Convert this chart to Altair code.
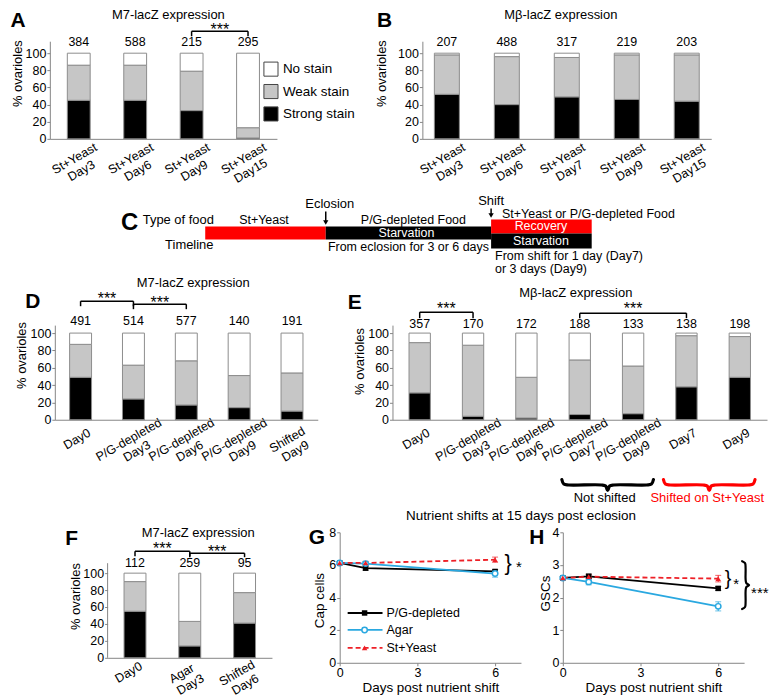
import altair as alt
import pandas as pd
import math

FONT = "Liberation Sans"
AXC = "#858585"
RED = "#ff0000"
LRED = "#ee2027"
BLUE = "#2aa8e0"
LBL_FS = 12.5
SFS = 16

# ---------------- data ----------------
STAINS = ["No stain", "Weak stain", "Strong stain"]
STAIN_COLORS = ["#ffffff", "#c6c6c6", "#000000"]

A_CATS = ["St+Yeast|Day3", "St+Yeast|Day6", "St+Yeast|Day9", "St+Yeast|Day15"]
A_STRONG = [45, 45, 33, 1]
A_WEAK_TOP = [86, 86, 79, 13]
A_N = [384, 588, 215, 295]

B_CATS = ["St+Yeast|Day3", "St+Yeast|Day6", "St+Yeast|Day7", "St+Yeast|Day9", "St+Yeast|Day15"]
B_STRONG = [52, 40, 49, 46, 44]
B_WEAK_TOP = [98, 96, 95, 98, 98]
B_N = [207, 488, 317, 219, 203]

D_CATS = ["Day0", "P/G-depleted|Day3", "P/G-depleted|Day6", "P/G-depleted|Day9", "Shifted|Day9"]
D_STRONG = [49, 24, 17, 14, 10]
D_WEAK_TOP = [87, 63, 68, 51, 54]
D_N = [491, 514, 577, 140, 191]

E_CATS = ["Day0", "P/G-depleted|Day3", "P/G-depleted|Day6", "P/G-depleted|Day7",
          "P/G-depleted|Day9", "Day7", "Day9"]
E_STRONG = [31, 4, 2, 6, 7, 38, 49]
E_WEAK_TOP = [89, 86, 49, 69, 62, 97, 96]
E_N = [357, 170, 172, 188, 133, 138, 198]

F_CATS = ["Day0", "Agar|Day3", "Shifted|Day6"]
F_STRONG = [55, 14, 41]
F_WEAK_TOP = [90, 43, 77]
F_N = [112, 259, 95]

SHIFT_DAYS = [0, 1, 6]
SERIES = ["P/G-depleted", "Agar", "St+Yeast"]
G_MEAN = {"P/G-depleted": [6.12, 5.8, 5.6], "Agar": [6.12, 6.08, 5.47], "St+Yeast": [6.12, 6.12, 6.32]}
G_ERR = {"P/G-depleted": [0.08, 0.12, 0.12], "Agar": [0.08, 0.12, 0.22], "St+Yeast": [0.08, 0.1, 0.16]}
H_MEAN = {"P/G-depleted": [2.6, 2.65, 2.28], "Agar": [2.6, 2.48, 1.73], "St+Yeast": [2.6, 2.64, 2.58]}
H_ERR = {"P/G-depleted": [0.05, 0.07, 0.06], "Agar": [0.05, 0.09, 0.14], "St+Yeast": [0.05, 0.07, 0.1]}

C_ROWS = ["Type of food", "Timeline"]
C_FOOD = ["St+Yeast", "P/G-depleted Food", "St+Yeast or P/G-depleted Food"]
C_PHASE = ["", "Starvation", "Recovery", "Starvation"]
C_EVENT = ["Eclosion", "Shift"]
C_TIMING = ["From eclosion for 3 or 6 days", "From shift for 1 day (Day7)", "or 3 days (Day9)"]

# ---------------- layout (reference pixel geometry) ----------------
GEO = {
    "A": dict(left=44, top=34, base=132, ppu=0.86, width=228, pi=0.595, po=0.31,
              title="M7-lacZ expression", title_xy=(163, 8), letter="A", letter_xy=(12, 14),
              ytitle_xy=(12, 66), count_y=35, brackets=[(2, 3, 24, 29, 18)], axis_top=None,
              lab_across=14),
    "B": dict(left=418, top=34, base=132, ppu=0.86, width=290, pi=0.583, po=0.2,
              title="Mβ-lacZ expression", title_xy=(557, 8), letter="B", letter_xy=(380, 14),
              ytitle_xy=(377, 66), count_y=35, brackets=[], axis_top=None, lab_across=14),
    "D": dict(left=49, top=322, base=417, ppu=0.87, width=264, pi=0.585, po=0.28,
              title="M7-lacZ expression", title_xy=(188, 280), letter="D", letter_xy=(27, 299),
              ytitle_xy=(16, 352), count_y=318,
              brackets=[(0, 1, 298, 303, 292), (1, 2, 301, 306, 296)], axis_top=None,
              lab_across=14),
    "E": dict(left=388, top=322, base=417, ppu=0.87, width=376, pi=0.6, po=0.31,
              title="Mβ-lacZ expression", title_xy=(572, 290), letter="E", letter_xy=(350, 300),
              ytitle_xy=(355, 358), count_y=321,
              brackets=[(0, 1, 309, 315, 302), (3, 5, 310, 315, 302)], axis_top=None,
              lab_across=14),
    "F": dict(left=102, top=536, base=662, ppu=0.85, width=165, pi=0.6, po=0.3,
              title="M7-lacZ expression", title_xy=(193, 537), letter="F", letter_xy=(66, 543),
              ytitle_xy=(70, 600), count_y=567,
              brackets=[(0, 1, 555, 560, 549), (1, 2, 557, 561, 552)], axis_top=567,
              lab_across=8.5),
}
# invisible anchors that fix each row's extent (ref pixel coords)
ANCHOR_X = 3
ROW_ANCHORS = {"A": [182], "C": [184.5, 270.5], "D": [273.5, 503], "F": [510.5]}
LABEL_ALONG = -14   # label centre offset along the rotated baseline

AW = {" ": 278, "\u00a0": 278, "+": 584, "-": 333, "/": 278, "(": 333, ")": 333,
      "A": 667, "D": 722, "G": 778, "P": 667, "S": 667, "Y": 667,
      "a": 556, "d": 556, "e": 556, "f": 278, "g": 556, "h": 556, "i": 222, "l": 222,
      "n": 556, "o": 556, "p": 556, "r": 333, "s": 500, "t": 278, "y": 500}


def tw(s, fs):
    return sum(AW.get(ch, 556) for ch in s) * fs / 1000.0


ONE = pd.DataFrame({"k": [0]})


def txt(text, x, y, fs=13, weight="normal", color="black", align="center", baseline="middle"):
    return alt.Chart(ONE).mark_text(text=text, fontSize=fs, fontWeight=weight, color=color,
                                    align=align, baseline=baseline).encode(
        x=alt.value(x), y=alt.value(y))


def anchors(rx, ry, ys):
    return [alt.Chart(ONE).mark_point(opacity=0, size=1).encode(
        x=alt.value(rx(ANCHOR_X)), y=alt.value(ry(y))) for y in ys]


def label_expr(cats, fs=LBL_FS):
    """Multi-line labels, each line centred by trailing no-break spaces (kept by a ZWSP)."""
    lines = [c.split("|") for c in cats]
    wmax = max(tw(l, fs) for ls in lines for l in ls)
    nbw = AW["\u00a0"] * fs / 1000.0
    expr = "''"
    for c, ls in reversed(list(zip(cats, lines))):
        padded = []
        for l in ls:
            k = int(round((wmax - tw(l, fs)) / 2 / nbw))
            padded.append(l + ("\u00a0" * k + "\u200b" if k else ""))
        arr = "[" + ", ".join("'%s'" % p for p in padded) + "]"
        expr = "datum.value === '%s' ? %s : %s" % (c, arr, expr)
    return expr, wmax


def brace_points(a0, a1, b0, depth, vertical=False):
    m = (a0 + a1) / 2.0
    d = depth
    pts = [(a0, b0), (a0 + 2, b0 + d * 0.42), (a0 + 7, b0 + d * 0.5), (m - 6, b0 + d * 0.5),
           (m - 2, b0 + d * 0.6), (m, b0 + d), (m + 2, b0 + d * 0.6), (m + 6, b0 + d * 0.5),
           (a1 - 7, b0 + d * 0.5), (a1 - 2, b0 + d * 0.42), (a1, b0)]
    if vertical:
        pts = [(b, a) for a, b in pts]
    return pts


def brace_layer(pts, color, width):
    df = pd.DataFrame(pts, columns=["bx", "by"])
    df["i"] = list(range(len(df)))
    return alt.Chart(df).mark_line(color=color, strokeWidth=width, interpolate="catmull-rom",
                                   strokeCap="round").encode(
        x=alt.X("bx:Q", scale=None, axis=None), y=alt.Y("by:Q", scale=None, axis=None),
        order="i:Q")


def bar_layers(cats, strong, weak_top, counts, g, legend=False):
    L, T, B0, W = g["left"], g["top"], g["base"], g["width"]
    H = B0 - T
    ymax = H / g["ppu"]
    rx = lambda x: x - L
    ry = lambda y: y - T
    n = len(cats)
    step = W / (n - g["pi"] + 2 * g["po"])
    rows = []
    for c, s, wt in zip(cats, strong, weak_top):
        for stn, a, b in (("Strong stain", 0, s), ("Weak stain", s, wt), ("No stain", wt, 100)):
            rows.append({"cat": c, "y0": a, "y1": b, "stain": stn,
                         "fillc": STAIN_COLORS[STAINS.index(stn)]})
    df = pd.DataFrame(rows)
    expr, wmax = label_expr(cats)
    # offsets in the rotated label frame, converted to screen offsets
    rdx, rdy = wmax / 2 + LABEL_ALONG, g["lab_across"] - 0.43 * LBL_FS
    ang = math.radians(30)
    ox = rdx * math.cos(ang) + rdy * math.sin(ang)
    oy = -rdx * math.sin(ang) + rdy * math.cos(ang)
    xenc = alt.X("cat:N", sort=cats,
                 scale=alt.Scale(domain=cats, paddingInner=g["pi"], paddingOuter=g["po"]),
                 axis=alt.Axis(title=None, labelExpr=expr, labelAngle=330, labelAlign="right",
                               labelBaseline="top", labelOffset=ox, labelPadding=oy,
                               ticks=False, tickSize=0, labelFontSize=LBL_FS,
                               labelLineHeight=14, labelOverlap=False, labelLimit=300,
                               domainColor=AXC, labelColor="black"))
    yaxis = alt.Axis(values=[0, 20, 40, 60, 80, 100], title="% ovarioles",
                     titleX=rx(g["ytitle_xy"][0]), titleY=ry(g["ytitle_xy"][1]),
                     titleAngle=270, titleAlign="center", titleBaseline="middle",
                     titleFontSize=13, titleFontWeight="normal", labelFontSize=LBL_FS,
                     labelPadding=1, tickSize=3, domain=g["axis_top"] is None,
                     domainColor=AXC, tickColor=AXC, labelColor="black")
    yenc = alt.Y("y0:Q", scale=alt.Scale(domain=[0, ymax], nice=False, zero=False), axis=yaxis)
    if legend:
        cenc = alt.Color("stain:N", scale=alt.Scale(domain=STAINS, range=STAIN_COLORS),
                         legend=alt.Legend(title=None, orient="none", legendX=rx(258),
                                           legendY=ry(54), symbolType="square", symbolSize=200,
                                           symbolStrokeColor="#444", symbolStrokeWidth=1,
                                           labelFontSize=13.5, labelOffset=4, rowPadding=2.5,
                                           padding=0, labelColor="black"))
    else:
        cenc = alt.Color("fillc:N", scale=None)
    layers = [alt.Chart(df).mark_bar(stroke="#8c8c8c", strokeWidth=1).encode(
        x=xenc, y=yenc, y2="y1:Q", color=cenc)]
    cdf = pd.DataFrame({"cat": cats, "n": [str(v) for v in counts]})
    layers.append(alt.Chart(cdf).mark_text(fontSize=12.5, baseline="middle").encode(
        x=xenc, y=alt.value(ry(g["count_y"])), text="n:N"))
    for (i, j, yl, yg, ys) in g["brackets"]:
        hdf = pd.DataFrame({"cat": [cats[i]], "cat2": [cats[j]]})
        layers.append(alt.Chart(hdf).mark_rule(color="black", strokeWidth=1.5).encode(
            x=xenc, x2="cat2:N", y=alt.value(ry(yl))))
        ldf = pd.DataFrame({"cat": [cats[i], cats[j]]})
        layers.append(alt.Chart(ldf).mark_rule(color="black", strokeWidth=1.5).encode(
            x=xenc, y=alt.value(ry(yl)), y2=alt.value(ry(yg))))
        sdf = pd.DataFrame({"cat": [cats[i]]})
        layers.append(alt.Chart(sdf).mark_text(text="***", fontSize=SFS, baseline="alphabetic",
                                               dx=(j - i) * step / 2).encode(
            x=xenc, y=alt.value(ry(ys) + 0.58 * SFS)))
    if g["axis_top"] is not None:
        layers.append(alt.Chart(ONE).mark_rule(color=AXC).encode(
            x=alt.value(0), y=alt.value(ry(g["axis_top"])), y2=alt.value(H)))
    layers.append(txt(g["title"], rx(g["title_xy"][0]), ry(g["title_xy"][1]), fs=13))
    layers.append(txt(g["letter"], rx(g["letter_xy"][0]), ry(g["letter_xy"][1]), fs=21,
                      weight="bold"))
    return layers, W, H, rx, ry


def bar_panel(cats, strong, weak_top, counts, g, legend=False, anchor_ys=()):
    layers, W, H, rx, ry = bar_layers(cats, strong, weak_top, counts, g, legend)
    layers += anchors(rx, ry, anchor_ys)
    return alt.layer(*layers).properties(width=W, height=H)


STYLE = {
    "P/G-depleted": dict(color="black", dash=None, shape="square"),
    "Agar": dict(color=BLUE, dash=None, shape="circle"),
    "St+Yeast": dict(color=LRED, dash=[5, 3], shape="triangle-up"),
}


def point_mark(s, size, data=ONE):
    st = STYLE[s]
    if s == "Agar":
        return alt.Chart(data).mark_point(shape="circle", filled=True, fill="white",
                                          stroke=BLUE, strokeWidth=1.5, size=size, opacity=1)
    return alt.Chart(data).mark_point(shape=st["shape"], filled=True, color=st["color"],
                                      size=size, opacity=1)


def line_layers(means, errs, g):
    L, T, W, H = g["left"], g["top"], 182, 131
    rx = lambda x: x - L
    ry = lambda y: y - T
    xenc = alt.X("day:Q", scale=alt.Scale(domain=[0, 7], nice=False, zero=False),
                 axis=alt.Axis(values=[0, 3, 6], title="Days post nutrient shift",
                               titleFontSize=13.5, titleFontWeight="normal", titlePadding=1,
                               labelFontSize=12.5, labelPadding=1, tickSize=3, labelFlush=False,
                               format="d", domainColor=AXC, tickColor=AXC, labelColor="black"))
    yenc = alt.Y("val:Q", scale=alt.Scale(domain=[0, g["ymax"]], nice=False),
                 axis=alt.Axis(values=g["yticks"], title=g["ytitle"], titleX=rx(g["ytitle_xy"][0]),
                               titleY=ry(g["ytitle_xy"][1]), titleAngle=270, titleAlign="center",
                               titleBaseline="middle", titleFontSize=13.5,
                               titleFontWeight="normal", labelFontSize=12.5, labelPadding=1,
                               tickSize=3, format="d", domainColor=AXC, tickColor=AXC,
                               labelColor="black"))
    layers = []
    for s in SERIES:
        st = STYLE[s]
        df = pd.DataFrame({"day": SHIFT_DAYS, "val": means[s]})
        kw = dict(color=st["color"], strokeWidth=1.8)
        if st["dash"]:
            kw["strokeDash"] = st["dash"]
        layers.append(alt.Chart(df).mark_line(**kw).encode(x=xenc, y=yenc))
    for s in SERIES:
        st = STYLE[s]
        lo = [m - e for m, e in zip(means[s], errs[s])]
        hi = [m + e for m, e in zip(means[s], errs[s])]
        edf = pd.DataFrame({"day": SHIFT_DAYS, "val": lo, "val2": hi})
        layers.append(alt.Chart(edf).mark_rule(color=st["color"], strokeWidth=1).encode(
            x=xenc, y=yenc, y2="val2:Q"))
        capdf = pd.DataFrame({"day": SHIFT_DAYS + SHIFT_DAYS, "val": lo + hi})
        layers.append(alt.Chart(capdf).mark_tick(color=st["color"], orient="horizontal",
                                                 size=6, thickness=1).encode(x=xenc, y=yenc))
    for s in SERIES:
        df = pd.DataFrame({"day": SHIFT_DAYS, "val": means[s]})
        layers.append(point_mark(s, 30, df).encode(x=xenc, y=yenc))
    layers.append(txt(g["letter"], rx(g["letter_xy"][0]), ry(g["letter_xy"][1]), fs=21,
                      weight="bold"))
    return layers, W, H, rx, ry


# ---------------- panels ----------------
A = bar_panel(A_CATS, A_STRONG, A_WEAK_TOP, A_N, GEO["A"], legend=True,
              anchor_ys=ROW_ANCHORS["A"])
B = bar_panel(B_CATS, B_STRONG, B_WEAK_TOP, B_N, GEO["B"])
D = bar_panel(D_CATS, D_STRONG, D_WEAK_TOP, D_N, GEO["D"], anchor_ys=ROW_ANCHORS["D"])

# E with braces
e_layers, eW, eH, erx, ery = bar_layers(E_CATS, E_STRONG, E_WEAK_TOP, E_N, GEO["E"])
e_layers.append(txt("Not shifted", erx(601), ery(496), fs=13))
e_layers.append(txt("Shifted on St+Yeast", erx(704), ery(496), fs=13, color=RED))
E = alt.layer(
    alt.layer(*e_layers),
    brace_layer(brace_points(erx(558), erx(650), ery(477), 11), "black", 3.2),
    brace_layer(brace_points(erx(660), erx(752), ery(477), 11), RED, 3.2),
).resolve_scale(x="independent", y="independent").properties(width=eW, height=eH)

F = bar_panel(F_CATS, F_STRONG, F_WEAK_TOP, F_N, GEO["F"], anchor_ys=ROW_ANCHORS["F"])

# G
GG = dict(left=337, top=536, ymax=8, yticks=[0, 2, 4, 6, 8], ytitle="Cap cells",
          ytitle_xy=(317, 604), letter="G", letter_xy=(314, 542))
g_layers, gW, gH, grx, gry = line_layers(G_MEAN, G_ERR, GG)
g_layers.append(txt("Nutrient shifts at 15 days post eclosion", grx(519), gry(520), fs=13.5))
for s, yy in zip(SERIES, [617, 634, 652]):
    st = STYLE[s]
    kw = dict(color=st["color"], strokeWidth=1.8)
    if st["dash"]:
        kw["strokeDash"] = st["dash"]
    g_layers.append(alt.Chart(ONE).mark_rule(**kw).encode(
        x=alt.value(grx(345)), x2=alt.value(grx(380)), y=alt.value(gry(yy))))
    g_layers.append(point_mark(s, 30).encode(x=alt.value(grx(362)), y=alt.value(gry(yy))))
    g_layers.append(txt(s, grx(384), gry(yy), fs=12.5, align="left"))
g_layers.append(txt("}", grx(506), gry(568) + 0.26 * 22, fs=22, baseline="alphabetic"))
g_layers.append(txt("*", grx(517), gry(567) + 0.58 * 15, fs=15, baseline="alphabetic"))
G = alt.layer(*g_layers).properties(width=gW, height=gH)

# H
HG = dict(left=563, top=536, ymax=4, yticks=[0, 1, 2, 3, 4], ytitle="GSCs",
          ytitle_xy=(546, 597), letter="H", letter_xy=(537, 542))
h_layers, hW, hH, hrx, hry = line_layers(H_MEAN, H_ERR, HG)
h_layers.append(txt("}", hrx(729), hry(584) + 0.26 * 20, fs=20, baseline="alphabetic"))
h_layers.append(txt("*", hrx(737), hry(584) + 0.58 * 15, fs=15, baseline="alphabetic"))
h_layers.append(txt("***", hrx(752), hry(593) + 0.58 * 15, fs=15, align="left",
                    baseline="alphabetic"))
H = alt.layer(
    alt.layer(*h_layers),
    brace_layer(brace_points(hry(565), hry(613), hrx(743), 7, vertical=True), "black", 2.2),
).resolve_scale(x="independent", y="independent").properties(width=hW, height=hH)

# C (schematic timeline)
C_L, C_T, C_W, C_H = 44, 190, 656, 80
C_BOX_GEO = [(200, 321, 221, 234, RED), (321, 487, 221, 234, "black"),
             (487, 588, 214, 228, RED), (487, 588, 228, 243, "black")]
C_PHASE_XY = [None, (402, 228), (537, 221), (537, 235.5)]
C_FOOD_XY = [((259, 214), "center"), ((409, 214), "center"), ((498, 208), "left")]
C_EVENT_XY = [(325, 198), (487, 195)]
C_ARROW = [(321, 206, 220), (487, 203, 213)]
C_TIMING_XY = [((404, 242), "center"), ((491, 251), "left"), ((491, 264), "left")]
C_ROWS_XY = [(173, 214), (184, 240)]

cx = lambda x: x - C_L
cy = lambda y: y - C_T
box_df = pd.DataFrame([{"x0": cx(a), "x1": cx(b), "y0": cy(c), "y1": cy(d), "fillc": col}
                       for a, b, c, d, col in C_BOX_GEO])
c_layers = [alt.Chart(box_df).mark_rect().encode(
    x=alt.X("x0:Q", scale=alt.Scale(domain=[0, C_W], range=[0, C_W]), axis=None),
    x2="x1:Q",
    y=alt.Y("y0:Q", scale=alt.Scale(domain=[0, C_H], range=[0, C_H]), axis=None),
    y2="y1:Q",
    color=alt.Color("fillc:N", scale=None))]
for t, xy in zip(C_PHASE, C_PHASE_XY):
    if xy:
        c_layers.append(txt(t, cx(xy[0]), cy(xy[1]), fs=12.5, color="white"))
for t, (xy, al) in zip(C_FOOD, C_FOOD_XY):
    c_layers.append(txt(t, cx(xy[0]), cy(xy[1]), fs=12.5, align=al))
for t, xy in zip(C_EVENT, C_EVENT_XY):
    c_layers.append(txt(t, cx(xy[0]), cy(xy[1]), fs=13))
for t, (xy, al) in zip(C_TIMING, C_TIMING_XY):
    c_layers.append(txt(t, cx(xy[0]), cy(xy[1]), fs=12.5, align=al))
for t, xy in zip(C_ROWS, C_ROWS_XY):
    c_layers.append(txt(t, cx(xy[0]), cy(xy[1]), fs=13))
for (ax, y0, y1) in C_ARROW:
    c_layers.append(alt.Chart(ONE).mark_rule(color="black", strokeWidth=1.5).encode(
        x=alt.value(cx(ax)), y=alt.value(cy(y0)), y2=alt.value(cy(y1) - 4)))
    c_layers.append(alt.Chart(ONE).mark_point(shape="triangle-down", filled=True, color="black",
                                              size=28, opacity=1).encode(
        x=alt.value(cx(ax)), y=alt.value(cy(y1) - 3)))
c_layers.append(txt("C", cx(124), cy(218), fs=24, weight="bold"))
c_layers += anchors(cx, cy, ROW_ANCHORS["C"])
C = alt.layer(*c_layers).properties(width=C_W, height=C_H)


def spacer(w=1, h=1):
    return alt.Chart(ONE).mark_point(opacity=0).encode(
        x=alt.value(0), y=alt.value(0)).properties(width=w, height=h)


row1 = alt.hconcat(A, spacer(146), B, spacing=0, bounds="flush").resolve_scale(
    color="independent")
row3 = alt.hconcat(spacer(5), D, spacer(75), E, spacing=0, bounds="flush")
row4 = alt.hconcat(spacer(58), F, spacer(68), G, spacer(42), H, spacing=0, bounds="flush")

chart = alt.vconcat(row1, C, row3, row4, spacing=0).resolve_scale(
    color="independent"
).properties(
    padding=0, background="white"
).configure(font=FONT).configure_view(strokeWidth=0).configure_axis(
    grid=False, labelFont=FONT, titleFont=FONT
).configure_legend(labelFont=FONT)

chart.save("out.html", embed_options={"renderer": "svg", "actions": False})
